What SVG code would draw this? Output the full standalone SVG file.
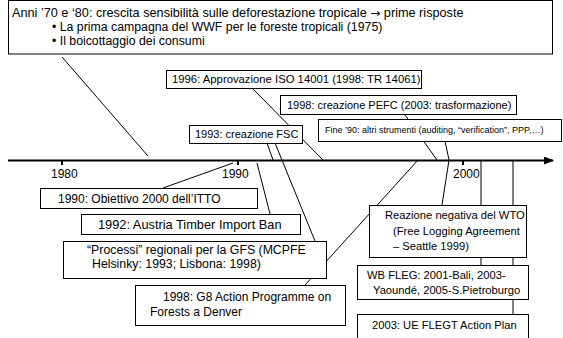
<svg xmlns="http://www.w3.org/2000/svg" width="563" height="338" viewBox="0 0 563 338">
<defs>
<style>
.box{fill:#fff;stroke:#000;stroke-width:1}
.ln{stroke:#000;stroke-width:1;fill:none}
text{font-family:"Liberation Sans",Arial,sans-serif;fill:#000}
.t12{font-size:12px}
.t11{font-size:11px}
.t9{font-size:9px}
.r{font-size:11.2px}
</style>
<marker id="arr" markerWidth="10" markerHeight="8" refX="9" refY="4" orient="auto" markerUnits="userSpaceOnUse">
<path d="M0,0 L10,4 L0,8 Z" fill="#000"/>
</marker>
</defs>
<rect width="563" height="338" fill="#fff"/>

<g id="connectors">
<line class="ln" x1="62" y1="57" x2="148" y2="156"/>
<line class="ln" x1="163" y1="188" x2="233" y2="163"/>
<line class="ln" x1="257" y1="163" x2="270" y2="214"/>
<line class="ln" x1="267" y1="143" x2="273" y2="160"/>
<line class="ln" x1="275" y1="143" x2="315" y2="241"/>
<line class="ln" x1="252" y1="88" x2="323" y2="160"/>
<line class="ln" x1="405" y1="115" x2="437" y2="160"/>
<line class="ln" x1="445" y1="141" x2="449" y2="160"/>
<line class="ln" x1="449" y1="160" x2="442" y2="205"/>
<line class="ln" x1="305" y1="285" x2="418" y2="160"/>
<line class="ln" x1="481" y1="160" x2="481" y2="265"/>
<line class="ln" x1="513" y1="160" x2="513" y2="314"/>
</g>

<g id="timeline">
<line x1="8" y1="160.5" x2="553" y2="160.5" stroke="#000" stroke-width="2" marker-end="url(#arr)"/>
<line x1="62" y1="160" x2="62" y2="165" stroke="#000" stroke-width="2"/>
<line x1="238" y1="160" x2="238" y2="165" stroke="#000" stroke-width="2"/>
<line x1="463" y1="160" x2="463" y2="165" stroke="#000" stroke-width="2"/>
<text class="t12" x="51" y="178">1980</text>
<text class="t12" x="222" y="178">1990</text>
<text class="t12" x="453" y="178">2000</text>
</g>

<g id="n-top">
<rect class="box" x="8.5" y="0.5" width="544" height="53.5"/>
<text x="12" y="17" font-size="12.7">Anni ’70 e ‘80: crescita sensibilità sulle deforestazione tropicale <tspan font-family="DejaVu Sans" font-size="12">→</tspan> prime risposte</text>
<text x="52" y="31" font-size="12.3">• La prima campagna del WWF per le foreste tropicali (1975)</text>
<text x="52" y="45" font-size="12.3">• Il boicottaggio dei consumi</text>
</g>

<g id="n-1996">
<rect class="box" x="166.5" y="70.5" width="255" height="18"/>
<text x="172" y="83" font-size="11.3">1996: Approvazione ISO 14001 (1998: TR 14061)</text>
</g>

<g id="n-pefc">
<rect class="box" x="280.5" y="95.5" width="236" height="19"/>
<text class="t11" x="287" y="109">1998: creazione PEFC (2003: trasformazione)</text>
</g>

<g id="n-fine90">
<rect class="box" x="318.5" y="119.5" width="243" height="22"/>
<text class="t9" x="325" y="133">Fine ’90: altri strumenti (auditing, “verification”,  PPP,…)</text>
</g>

<g id="n-fsc">
<rect class="box" x="189.5" y="125.5" width="113" height="18"/>
<text class="t11" x="195" y="138">1993: creazione FSC</text>
</g>

<g id="n-1990">
<rect class="box" x="40.5" y="188.5" width="217" height="20"/>
<text class="t12" x="58" y="203">1990: Obiettivo 2000 dell’ITTO</text>
</g>

<g id="n-1992">
<rect class="box" x="81.5" y="214.5" width="219" height="20"/>
<text x="98" y="229" font-size="12.8">1992: Austria Timber Import Ban</text>
</g>

<g id="n-processi">
<rect class="box" x="63.5" y="241.5" width="263" height="37"/>
<text x="87" y="254" font-size="12.3">“Processi” regionali per la GFS (MCPFE</text>
<text x="92" y="268" font-size="12.3">Helsinky: 1993; Lisbona: 1998)</text>
</g>

<g id="n-g8">
<rect class="box" x="135.5" y="285.5" width="210" height="40"/>
<text class="t12" x="163" y="301">1998:  G8 Action Programme on</text>
<text class="t12" x="150" y="316">Forests a Denver</text>
</g>

<g id="n-wto">
<rect class="box" x="369.5" y="205.5" width="157" height="52"/>
<text class="r" x="385" y="219">Reazione negativa del WTO</text>
<text class="r" x="393" y="235">(Free Logging Agreement</text>
<text class="r" x="393" y="250">– Seattle 1999)</text>
</g>

<g id="n-wbfleg">
<rect class="box" x="357.5" y="265.5" width="171" height="34"/>
<text class="r" x="367" y="279">WB FLEG: 2001-Bali, 2003-</text>
<text class="r" x="373" y="294" font-size="11">Yaoundé, 2005-S.Pietroburgo</text>
</g>

<g id="n-ueflegt">
<rect class="box" x="357.5" y="314.5" width="171" height="30"/>
<text class="r" x="372" y="329">2003: UE FLEGT Action Plan</text>
</g>
</svg>
